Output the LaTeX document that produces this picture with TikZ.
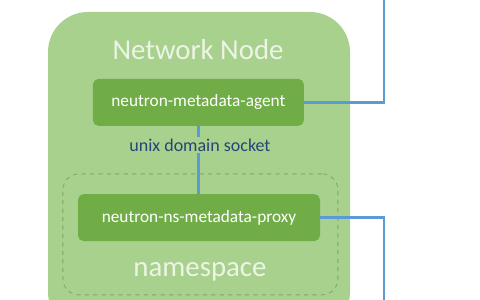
\documentclass[tikz,border=0pt]{standalone}
\usepackage{fontspec}
\setmainfont{Carlito}
\usepackage{tikz}
\usetikzlibrary{positioning,calc}
\definecolor{NodeFill}{RGB}{169,209,142}
\definecolor{BoxFill}{RGB}{112,173,71}
\definecolor{TitleText}{RGB}{236,245,229}
\definecolor{DashLine}{RGB}{128,166,106}
\definecolor{LinkBlue}{RGB}{91,155,213}
\definecolor{SocketText}{RGB}{38,68,120}

\begin{document}
\begin{tikzpicture}[
  box/.style={
    rectangle, rounded corners=4pt, fill=BoxFill, text=white,
    font=\fontsize{12.3}{14}\selectfont, inner sep=0pt,
    minimum height=1.175cm
  },
  title/.style={text=TitleText, font=\fontsize{20.5}{24}\selectfont},
  link/.style={draw=LinkBlue, line width=1.6pt}
]
\useasboundingbox (0,0) rectangle (12,7.5);
\clip (0,0) rectangle (12,7.5);

% --- NETWORK NODE ---
\node[rectangle, rounded corners=1cm, fill=NodeFill, minimum width=7.55cm,
      minimum height=8.0cm, inner sep=0pt] (netnode) at (4.975,3.2) {};
\node[title] (nettitle) at (4.95,6.25) {Network Node};

% --- NAMESPACE ---
\node[rectangle, rounded corners=0.4cm, draw=DashLine, dashed, line width=0.6pt,
      minimum width=6.875cm, minimum height=3.025cm, inner sep=0pt] (ns) at (5.01,1.64) {};
\node[title] (nstitle) at (5.0,0.7) {namespace};

% --- AGENTS ---
\node[box, minimum width=5.275cm] (agent) at (4.96,4.94) {neutron-metadata-agent};
\node[box, minimum width=6.05cm] (proxy) at (4.975,2.06) {neutron-ns-metadata-proxy};

% --- links ---
\coordinate (uptop) at (9.6,7.6);
\coordinate (downbot) at (9.6,-0.1);
\draw[link] (agent.south) -- (agent.south |- proxy.north);
\node[fill=NodeFill, inner sep=1pt, text=SocketText,
      font=\fontsize{12.8}{14}\selectfont] (socket) at (5.0,3.875) {unix domain socket};
\draw[link] (agent.east) -- (agent.east -| uptop) -- (uptop);
\draw[link] (proxy.east) -- (proxy.east -| downbot) -- (downbot);

\end{tikzpicture}
\end{document}
